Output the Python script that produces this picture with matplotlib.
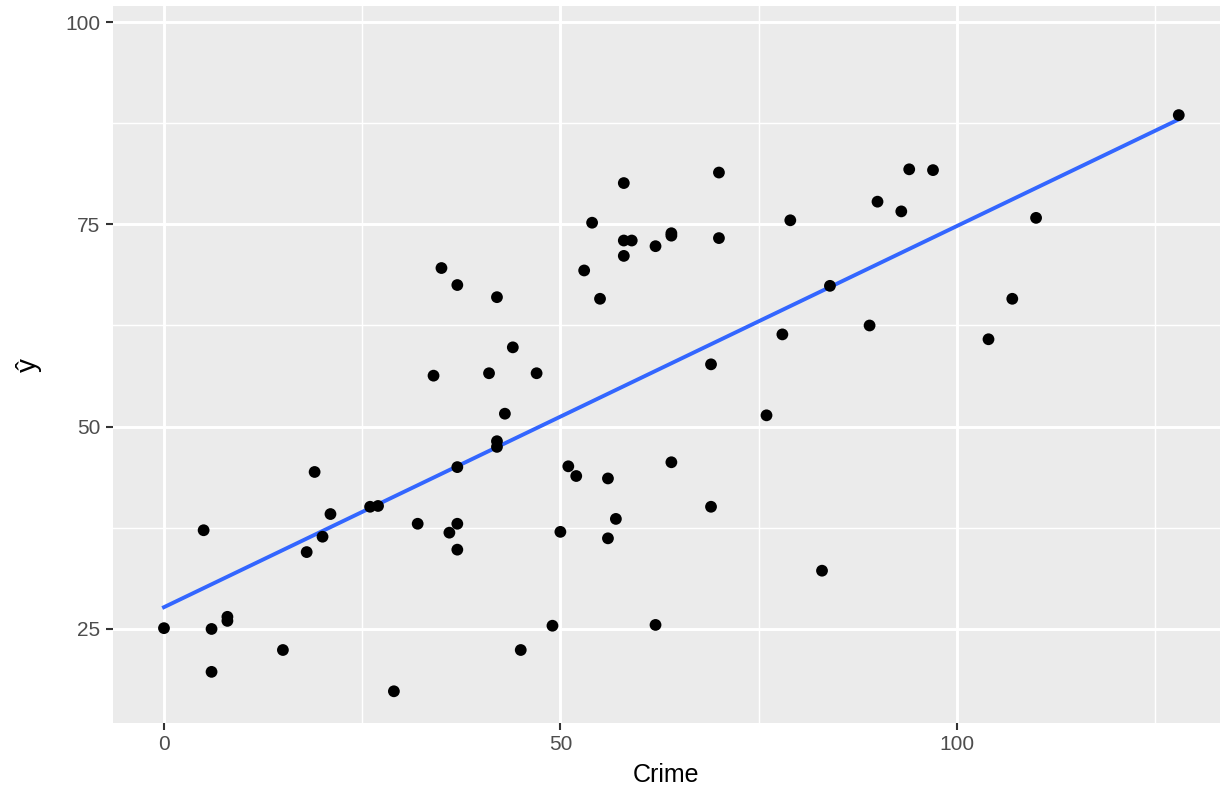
import matplotlib
matplotlib.use("Agg")
import matplotlib.pyplot as plt
import numpy as np

# --- data -----------------------------------------------------------------
crime = [0, 5, 6, 6, 8, 8, 15, 18, 19, 20, 21, 26, 27, 29, 32, 34, 35, 36,
         37, 37, 37, 37, 41, 42, 42, 42, 43, 44, 45, 47, 49, 50, 51, 52, 53,
         54, 55, 56, 56, 57, 58, 58, 58, 59, 62, 62, 64, 64, 64, 69, 69, 70,
         70, 76, 78, 79, 83, 84, 89, 90, 93, 94, 97, 104, 107, 110, 128]
y_hat = [25.1, 37.2, 25.0, 19.7, 26.5, 26.0, 22.4, 34.5, 44.4, 36.4, 39.2,
         40.1, 40.2, 17.3, 38.0, 56.3, 69.6, 36.9, 67.5, 45.0, 38.0, 34.8,
         56.6, 66.0, 48.2, 47.5, 51.6, 59.8, 22.4, 56.6, 25.4, 37.0, 45.1,
         43.9, 69.3, 75.2, 65.8, 43.6, 36.2, 38.6, 80.1, 73.0, 71.1, 73.0,
         72.3, 25.5, 73.9, 73.6, 45.6, 57.7, 40.1, 81.4, 73.3, 51.4, 61.4,
         75.5, 32.2, 67.4, 62.5, 77.8, 76.6, 81.8, 81.7, 60.8, 65.8, 75.8, 88.5]

x_ticks = [0, 50, 100]
y_ticks = [25, 50, 75, 100]

# --- style ----------------------------------------------------------------
PANEL = "#EBEBEB"
TICK_TXT = "#4D4D4D"
TICK_LINE = "#333333"
LINE_BLUE = "#3366FF"
FONT = ["Liberation Sans", "Arial", "DejaVu Sans"]

fig = plt.figure(figsize=(12.2, 7.92), dpi=100)
ax = fig.add_axes([113 / 1220, 69 / 792, 1 - 113 / 1220, (723 - 6) / 792])
ax.set_facecolor(PANEL)
for s in ax.spines.values():
    s.set_visible(False)

ax.set_xlim(-6.43, 133.2)
ax.set_ylim(13.38, 101.98)

ax.set_xticks(x_ticks)
ax.set_yticks(y_ticks)
ax.set_xticks([25, 75, 125], minor=True)
ax.set_yticks([37.5, 62.5, 87.5], minor=True)
ax.grid(which="major", color="white", linewidth=2.1)
ax.grid(which="minor", color="white", linewidth=1.05)
ax.set_axisbelow(True)

ax.tick_params(which="major", length=5, width=1.5, color=TICK_LINE,
               labelcolor=TICK_TXT, labelsize=15, pad=4)
ax.tick_params(which="minor", length=0)
for lab in ax.get_xticklabels() + ax.get_yticklabels():
    lab.set_family(FONT)

# fitted line (lm of y_hat on crime)
slope, icpt = np.polyfit(crime, y_hat, 1)
xs = np.array([min(crime), max(crime)])
ax.plot(xs, icpt + slope * xs, color=LINE_BLUE, linewidth=2.8, zorder=2)

ax.scatter(crime, y_hat, s=72, color="black", edgecolors="none", zorder=3)

ax.set_xlabel("Crime", fontsize=18, family=FONT, labelpad=6)
ax.set_ylabel("ŷ", fontsize=20, family=FONT)
ax.yaxis.set_label_coords(-0.064, 0.5)

fig.savefig("out.png", dpi=100, facecolor="white")
